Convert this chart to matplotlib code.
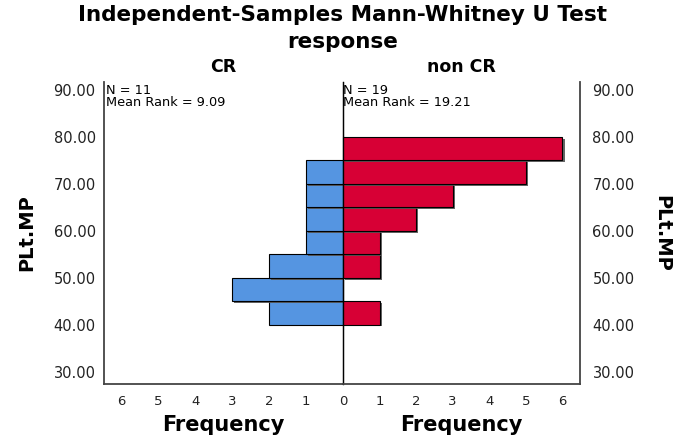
import numpy as np
import matplotlib.pyplot as plt
import matplotlib.patheffects as pe

plt.rcParams['font.family'] = ['DejaVu Sans']

# histogram bins of PLt.MP (lower edges, width 5)
bin_lo = [40, 45, 50, 55, 60, 65, 70, 75]
cr_freq = [2, 3, 2, 1, 1, 1, 1, 0]
noncr_freq = [1, 0, 1, 1, 2, 3, 5, 6]
groups = ['CR', 'non CR']
n_vals = [11, 19]
mean_ranks = [9.09, 19.21]
yticks = [30, 40, 50, 60, 70, 80, 90]
xticks = [0, 1, 2, 3, 4, 5, 6]

fig = plt.figure(figsize=(6.85, 4.4), dpi=100)
axl = fig.add_axes([0.1518, 0.1273, 0.3489, 0.6863])
axr = fig.add_axes([0.5007, 0.1273, 0.346, 0.6863])

shadow = [pe.SimplePatchShadow(offset=(1.5, -1.2), shadow_rgbFace='#555555', alpha=0.9),
          pe.Normal()]

for ax, freq, col in [(axl, cr_freq, '#5595E1'), (axr, noncr_freq, '#D70035')]:
    ax.patch.set_alpha(0)
    bars = ax.barh(bin_lo, freq, height=5, align='edge', color=col,
                   edgecolor='black', linewidth=0.8)
    for b in bars:
        if b.get_width() > 0:
            b.set_path_effects(shadow)
    ax.set_ylim(27.4, 91.7)
    ax.set_xlim(0, 6.48)
    ax.set_xticks(xticks)
    ax.set_yticks(yticks)
    ax.tick_params(length=0, pad=8)
    ax.spines['top'].set_visible(False)
    ax.set_xlabel('Frequency', fontsize=15, fontweight='bold', labelpad=5)

axl.set_xticklabels([str(v) for v in xticks], fontsize=9.5, color='#222222')
# the shared 0 is drawn only once
axr.set_xticklabels([''] + [str(v) for v in xticks[1:]], fontsize=9.5, color='#222222')

axl.invert_xaxis()
axl.spines['left'].set_color('#444444')
axl.spines['left'].set_linewidth(1.3)
axl.spines['right'].set_color('black')
axl.spines['right'].set_linewidth(0.9)
axl.spines['right'].set_zorder(5)
axl.spines['bottom'].set_color('#444444')
axl.spines['bottom'].set_linewidth(1.3)
axl.set_yticklabels(['%.2f' % v for v in yticks], fontsize=10.5, color='#222222')
axl.tick_params(axis='y', pad=6)
axl.set_ylabel('PLt.MP', fontsize=14, fontweight='bold', labelpad=12)

axr.spines['left'].set_color('black')
axr.spines['left'].set_linewidth(0.9)
axr.spines['right'].set_color('#444444')
axr.spines['right'].set_linewidth(1.3)
axr.spines['bottom'].set_color('#444444')
axr.spines['bottom'].set_linewidth(1.3)
axr.yaxis.tick_right()
axr.yaxis.set_label_position('right')
axr.set_yticklabels(['%.2f' % v for v in yticks], fontsize=10.5, color='#222222')
axr.tick_params(axis='y', pad=9)
axr.set_ylabel('PLt.MP', fontsize=14, fontweight='bold', rotation=-90, labelpad=26)

for ax, g, n, mr in [(axl, groups[0], n_vals[0], mean_ranks[0]),
                     (axr, groups[1], n_vals[1], mean_ranks[1])]:
    ax.set_title(g, fontsize=12.5, fontweight='bold', pad=7)
    ax.text(0.012 if ax is axr else 6.42, 91.3, 'N = %d\nMean Rank = %.2f' % (n, mr),
            fontsize=9.3, va='top', ha='left', linespacing=0.9)

fig.text(0.5, 0.966, 'Independent-Samples Mann-Whitney U Test', ha='center', va='center',
         fontsize=15.5, fontweight='bold')
fig.text(0.5, 0.905, 'response', ha='center', va='center', fontsize=15.5, fontweight='bold')

fig.savefig('out.png', dpi=100)
